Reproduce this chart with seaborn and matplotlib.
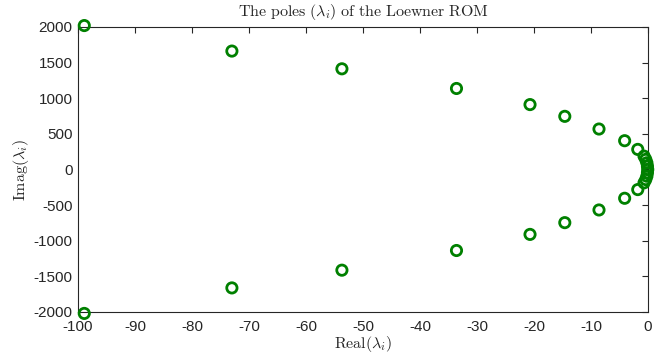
import seaborn as sns
import matplotlib.pyplot as plt
import pandas as pd

# pole locations (upper and lower halves)
real_upper = [-98.9, -73.0, -53.7, -33.6, -20.7, -14.6, -8.6, -4.1, -1.8, -0.7, -0.4, -0.2, -0.1]
imag_upper = [2020, 1662, 1413, 1137, 911, 746, 568, 404, 282, 187, 141, 94, 46]
real_lower = [-98.9, -73.0, -53.7, -33.6, -20.7, -14.6, -8.6, -4.1, -1.8, -0.7, -0.4, -0.2, -0.1]
imag_lower = [-2020, -1662, -1413, -1137, -911, -746, -568, -404, -282, -187, -141, -94, -46]
real_axis = [-0.05]
imag_axis = [0]

x_ticks = list(range(-100, 1, 10))
y_ticks = list(range(-2000, 2001, 500))

df = pd.DataFrame({'re': real_upper + real_axis + real_lower,
                   'im': imag_upper + imag_axis + imag_lower})

sns.set_style('white')
plt.rcParams['font.family'] = ['Liberation Sans', 'DejaVu Sans']
plt.rcParams['mathtext.fontset'] = 'cm'
plt.rcParams['axes.unicode_minus'] = False

fig = plt.figure(figsize=(6.66, 3.56), dpi=100)
ax = fig.add_axes([0.1171, 0.1236, 0.8559, 0.8006])

sns.scatterplot(data=df, x='re', y='im', ax=ax, marker='o', s=55,
                facecolor='none', edgecolor='#008000', linewidth=2, clip_on=False, zorder=3)

ax.set_xlim(-100, 0)
ax.set_ylim(-2000, 2000)
ax.set_xticks(x_ticks)
ax.set_yticks(y_ticks)
ax.tick_params(direction='in', length=4, width=0.8, color='#262626', labelsize=11,
               top=True, right=True, labelcolor='#262626')
ax.tick_params(axis='x', pad=6)
ax.tick_params(axis='y', pad=4)
for side in ax.spines.values():
    side.set_color('#262626')
    side.set_linewidth(0.8)

ax.set_title(r'$\mathrm{The\ poles\ }(\lambda_i)\mathrm{\ of\ the\ Loewner\ ROM}$', fontsize=11.5, pad=8)
ax.set_xlabel(r'$\mathrm{Real}(\lambda_i)$', fontsize=11.5, labelpad=0)
ax.set_ylabel(r'$\mathrm{Imag}(\lambda_i)$', fontsize=11.5, labelpad=2)

plt.savefig('out.png', dpi=100)
